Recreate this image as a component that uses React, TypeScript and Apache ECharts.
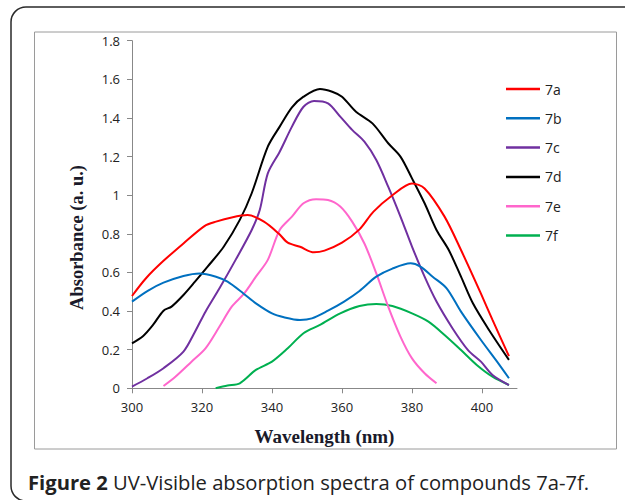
import React, { useEffect, useRef } from "react";
import * as echarts from "echarts";

const seriesNames = ["7a", "7b", "7c", "7d", "7e", "7f"];
const seriesColors = ["#FF0000", "#0070C0", "#7030A0", "#000000", "#FF66CC", "#00B050"];

const wl7a = [300, 304, 309, 314.7, 320.7, 324, 328.5, 333, 337.7, 342, 344.5, 348, 352, 355, 360, 365, 369, 374.4, 380, 383.6, 389.3, 394, 399.7, 403, 407.7];
const ab7a = [0.478, 0.57, 0.66, 0.75, 0.84, 0.863, 0.885, 0.897, 0.863, 0.8, 0.754, 0.733, 0.704, 0.713, 0.754, 0.823, 0.915, 1.0, 1.061, 1.035, 0.889, 0.716, 0.49, 0.354, 0.167];

const wl7b = [300, 304.5, 309, 314.7, 319.3, 324, 327.3, 331.9, 335.4, 340, 343.4, 348, 351.4, 356, 360.6, 365, 369.8, 374.4, 379.6, 382.4, 385.9, 389.9, 394, 399.7, 404.3, 407.7];
const ab7b = [0.449, 0.505, 0.547, 0.582, 0.595, 0.578, 0.552, 0.49, 0.44, 0.388, 0.368, 0.354, 0.362, 0.402, 0.449, 0.504, 0.578, 0.62, 0.647, 0.63, 0.578, 0.518, 0.397, 0.25, 0.138, 0.052];

const wl7c = [300, 304.4, 309, 314.7, 318, 321, 325, 329.6, 334.2, 336.5, 338.8, 342.2, 345.7, 349, 352, 356, 359.5, 362.9, 366.4, 369.8, 373.2, 376.7, 380, 383.6, 387, 391.6, 396, 399.7, 403, 407.7];
const ab7c = [0.009, 0.052, 0.104, 0.19, 0.293, 0.397, 0.518, 0.665, 0.82, 0.923, 1.113, 1.225, 1.355, 1.458, 1.488, 1.476, 1.407, 1.338, 1.277, 1.182, 1.044, 0.889, 0.734, 0.578, 0.449, 0.31, 0.198, 0.138, 0.069, 0.017];

const wl7d = [300, 303.2, 306, 309, 311.3, 314.7, 318, 321.6, 326.2, 330.8, 334.2, 338.8, 342.2, 345.7, 349, 353.7, 357.2, 360, 364, 368.7, 373.2, 376.7, 380, 383.6, 387, 390.5, 394, 397.4, 402, 407.7];
const ab7d = [0.233, 0.271, 0.328, 0.402, 0.423, 0.483, 0.552, 0.63, 0.733, 0.872, 1.01, 1.251, 1.355, 1.455, 1.51, 1.55, 1.536, 1.51, 1.432, 1.372, 1.269, 1.2, 1.087, 0.958, 0.82, 0.716, 0.578, 0.44, 0.302, 0.147];

const wl7e = [309, 312.4, 317, 321, 325, 328.5, 332, 335.4, 338.8, 342.2, 345.7, 349, 352.6, 356, 359.5, 362.9, 366.4, 369.8, 373.2, 376.7, 380, 383.6, 387];
const ab7e = [0.012, 0.06, 0.138, 0.207, 0.32, 0.423, 0.49, 0.578, 0.665, 0.82, 0.889, 0.958, 0.979, 0.975, 0.941, 0.863, 0.75, 0.595, 0.423, 0.268, 0.155, 0.078, 0.026];

const wl7f = [323.9, 327.3, 330.8, 335.4, 340, 344.5, 349, 353.7, 359.5, 365, 369.8, 374.4, 380, 384.7, 389.3, 394, 398.5, 403, 407.7];
const ab7f = [0, 0.014, 0.026, 0.095, 0.138, 0.207, 0.285, 0.328, 0.388, 0.426, 0.437, 0.426, 0.388, 0.345, 0.276, 0.198, 0.121, 0.06, 0.017];

const xTicks = [300, 320, 340, 360, 380, 400];

const xData = [wl7a, wl7b, wl7c, wl7d, wl7e, wl7f];
const yData = [ab7a, ab7b, ab7c, ab7d, ab7e, ab7f];

export default function App() {
  const ref = useRef<HTMLDivElement>(null);
  useEffect(() => {
    if (!ref.current) return;
    const chart = echarts.init(ref.current, null, { renderer: "svg" });
    const series = seriesNames.map((name, i) => ({
      name,
      type: "line",
      data: xData[i].map((x, j) => [x, yData[i][j]]),
      symbol: "none",
      smooth: 0.3,
      lineStyle: { color: seriesColors[i], width: 2 },
      itemStyle: { color: seriesColors[i] },
      z: 10 - i,
    }));
    chart.setOption({
      animation: false,
      backgroundColor: "#ffffff",
      grid: { left: 132, top: 40.7, right: 108, bottom: 111.7, containLabel: false },
      legend: {
        orient: "vertical",
        left: 501,
        top: 77,
        icon: "rect",
        itemWidth: 34,
        itemHeight: 2.5,
        itemGap: 15.3,
        textStyle: { fontFamily: "Open Sans", fontSize: 14, lineHeight: 14, color: "#222" },
        data: seriesNames,
      },
      xAxis: {
        type: "value",
        min: 300,
        max: 410,
        interval: 20,
        name: "Wavelength (nm)",
        nameLocation: "middle",
        nameGap: 39,
        nameTextStyle: { fontFamily: "Liberation Serif", fontWeight: "bold", fontSize: 19, color: "#1a1a2a" },
        axisLine: { lineStyle: { color: "#888888", width: 1 } },
        axisTick: { show: true, length: 5, lineStyle: { color: "#888888" }, customValues: xTicks },
        axisLabel: { customValues: xTicks, margin: 12, fontFamily: "Open Sans", fontSize: 13, color: "#222" },
        splitLine: { show: false },
      },
      yAxis: {
        type: "value",
        min: 0,
        max: 1.8,
        interval: 0.2,
        name: "Absorbance (a. u.)",
        nameLocation: "middle",
        nameGap: 46,
        nameTextStyle: { fontFamily: "Liberation Serif", fontWeight: "bold", fontSize: 18.5, color: "#1a1a2a", padding: [0, 46, 0, 0] },
        axisLine: { show: true, lineStyle: { color: "#888888", width: 1 } },
        axisTick: { show: true, length: 5, lineStyle: { color: "#888888" } },
        axisLabel: { margin: 12, fontFamily: "Open Sans", fontSize: 13, color: "#222" },
        splitLine: { show: false },
      },
      graphic: [
        {
          type: "rect",
          shape: { x: 11, y: 7, width: 700, height: 494, r: 15 },
          style: { fill: "none", stroke: "#2a2a2a", lineWidth: 1.5 },
          silent: true,
        },
        {
          type: "rect",
          shape: { x: 34.5, y: 32, width: 582, height: 417 },
          style: { fill: "none", stroke: "#9a9a9a", lineWidth: 1 },
          silent: true,
        },
        {
          type: "text",
          x: 28,
          y: 492,
          style: {
            text: "{b|Figure 2} UV-Visible absorption spectra of compounds 7a-7f.",
            fontFamily: "Open Sans",
            fontSize: 20.2,
            fill: "#222",
            verticalAlign: "bottom",
            rich: { b: { fontFamily: "Open Sans", fontWeight: "bold", fontSize: 20.2, fill: "#222" } },
          },
          silent: true,
        },
      ],
      series,
    });
    return () => chart.dispose();
  }, []);
  return <div ref={ref} style={{ position: "absolute", left: 0, top: 0, width: 625, height: 500 }} />;
}
